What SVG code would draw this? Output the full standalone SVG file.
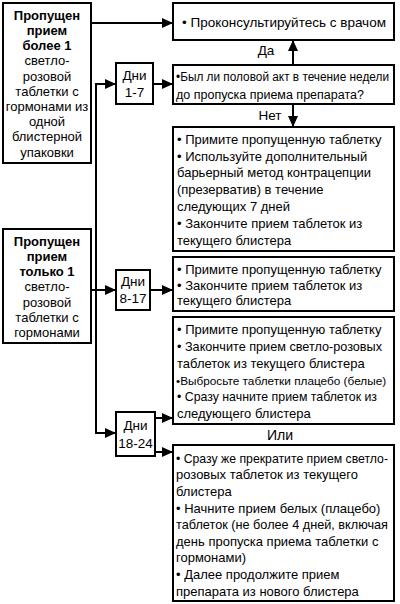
<svg xmlns="http://www.w3.org/2000/svg" width="400" height="604" viewBox="0 0 400 604">
<style>
.box{fill:#fff;stroke:#000;stroke-width:2}
.t{font-family:"Liberation Sans",Arial,sans-serif;font-size:13px;fill:#000}
.l{font-family:"Liberation Sans",Arial,sans-serif;font-size:13px;fill:#000;text-anchor:middle}
.b{font-weight:bold}
.d{font-family:"Liberation Sans",Arial,sans-serif;font-size:13.5px;fill:#000;text-anchor:middle}
.c{fill:none;stroke:#000;stroke-width:2}
.a{fill:none;stroke:#000;stroke-width:2;marker-end:url(#ah)}
</style>
<defs>
<marker id="ah" markerWidth="11" markerHeight="10" refX="11" refY="5" orient="auto" markerUnits="userSpaceOnUse">
<path d="M0,0 L11,5 L0,10 z" fill="#000"/>
</marker>
</defs>
<rect width="400" height="604" fill="#fff"/>

<g id="connectors">
<line class="a" x1="91" y1="23" x2="173" y2="23"/>
<path class="c" d="M96,84 V433"/>
<line class="a" x1="95" y1="84" x2="116" y2="84"/>
<line class="a" x1="91" y1="290" x2="116" y2="290"/>
<line class="a" x1="95" y1="433" x2="116" y2="433"/>
<line class="a" x1="153" y1="84" x2="173" y2="84"/>
<line class="a" x1="150" y1="290" x2="173" y2="290"/>
<line class="a" x1="155" y1="418" x2="173" y2="418"/>
<line class="a" x1="155" y1="452" x2="173" y2="452"/>
<line class="a" x1="293" y1="65" x2="293" y2="40"/>
<line class="a" x1="293" y1="104" x2="293" y2="127"/>
<text class="d" x="266" y="55">Да</text>
<text class="d" x="270" y="120">Нет</text>
<text class="d" x="280" y="440" style="font-size:14px">Или</text>
</g>

<g id="missed-more-than-one">
<rect class="box" x="3" y="3" width="88" height="160"/>
<text class="l b" x="47" y="19.7">Пропущен</text>
<text class="l b" x="47" y="34.9">прием</text>
<text class="l b" x="47" y="50.1">более 1</text>
<text class="l" x="47" y="65.3">светло-</text>
<text class="l" x="47" y="80.5">розовой</text>
<text class="l" x="47" y="95.7">таблетки с</text>
<text class="l" x="47" y="110.9">гормонами из</text>
<text class="l" x="47" y="126.1">одной</text>
<text class="l" x="47" y="141.3">блистерной</text>
<text class="l" x="47" y="156.5">упаковки</text>
</g>

<g id="missed-one">
<rect class="box" x="3" y="229" width="88" height="114"/>
<text class="l b" x="47" y="245.7">Пропущен</text>
<text class="l b" x="47" y="260.9">прием</text>
<text class="l b" x="47" y="276.1">только 1</text>
<text class="l" x="47" y="291.3">светло-</text>
<text class="l" x="47" y="306.5">розовой</text>
<text class="l" x="47" y="321.7">таблетки с</text>
<text class="l" x="47" y="336.9">гормонами</text>
</g>

<g id="consult">
<rect class="box" x="173" y="3" width="221" height="37"/>
<text class="t" x="182" y="27" style="font-size:13.5px">• Проконсультируйтесь с врачом</text>
</g>

<g id="question">
<rect class="box" x="173" y="65" width="221" height="39"/>
<text class="t" x="176" y="80.5" style="font-size:12.5px" textLength="213" lengthAdjust="spacingAndGlyphs">•Был ли половой акт в течение недели</text>
<text class="t" x="176" y="98.5" style="font-size:12.5px">до пропуска приема препарата?</text>
</g>

<g id="days-1-7">
<rect class="box" x="116" y="63" width="37" height="41"/>
<text class="d" x="134.5" y="80">Дни</text>
<text class="d" x="134.5" y="97">1-7</text>
</g>

<g id="no-action">
<rect class="box" x="173" y="127" width="221" height="124"/>
<text class="t" x="177" y="143.7">• Примите пропущенную таблетку</text>
<text class="t" x="177" y="160.5">• Используйте дополнительный</text>
<text class="t" x="177" y="177.3">барьерный метод контрацепции</text>
<text class="t" x="177" y="194.1">(презерватив) в течение</text>
<text class="t" x="177" y="210.9">следующих 7 дней</text>
<text class="t" x="177" y="227.7">• Закончите прием таблеток из</text>
<text class="t" x="177" y="244.5">текущего блистера</text>
</g>

<g id="days-8-17">
<rect class="box" x="116" y="270" width="34" height="40"/>
<text class="d" x="133" y="286">Дни</text>
<text class="d" x="133" y="303">8-17</text>
</g>

<g id="action-8-17">
<rect class="box" x="173" y="257" width="221" height="54"/>
<text class="t" x="177" y="273.5">• Примите пропущенную таблетку</text>
<text class="t" x="177" y="289.5">• Закончите прием таблеток из</text>
<text class="t" x="177" y="305.3">текущего блистера</text>
</g>

<g id="days-18-24">
<rect class="box" x="116" y="412" width="39" height="44"/>
<text class="d" x="135.5" y="430">Дни</text>
<text class="d" x="135.5" y="448">18-24</text>
</g>

<g id="action-18-24-a">
<rect class="box" x="173" y="317" width="221" height="107"/>
<text class="t" x="177" y="334.2">• Примите пропущенную таблетку</text>
<text class="t" x="177" y="351" textLength="205" lengthAdjust="spacingAndGlyphs">• Закончите прием светло-розовых</text>
<text class="t" x="177" y="367.8">таблеток из текущего блистера</text>
<text class="t" x="176" y="384.6" style="font-size:11.8px">•Выбросьте таблетки плацебо (белые)</text>
<text class="t" x="177" y="401.4" textLength="200" lengthAdjust="spacingAndGlyphs">• Сразу начните прием таблеток из</text>
<text class="t" x="177" y="418.2">следующего блистера</text>
</g>

<g id="action-18-24-b">
<rect class="box" x="173" y="445" width="221" height="156"/>
<text class="t" x="176" y="462.7" textLength="212" lengthAdjust="spacingAndGlyphs">• Сразу же прекратите прием светло-</text>
<text class="t" x="176" y="479.3">розовых таблеток из текущего</text>
<text class="t" x="176" y="495.9">блистера</text>
<text class="t" x="176" y="512.5">• Начните прием белых (плацебо)</text>
<text class="t" x="176" y="529.1" textLength="212" lengthAdjust="spacingAndGlyphs">таблеток (не более 4 дней, включая</text>
<text class="t" x="176" y="545.7">день пропуска приема таблетки с</text>
<text class="t" x="176" y="562.3">гормонами)</text>
<text class="t" x="176" y="578.9">• Далее продолжите прием</text>
<text class="t" x="176" y="595.5">препарата из нового блистера</text>
</g>
</svg>
